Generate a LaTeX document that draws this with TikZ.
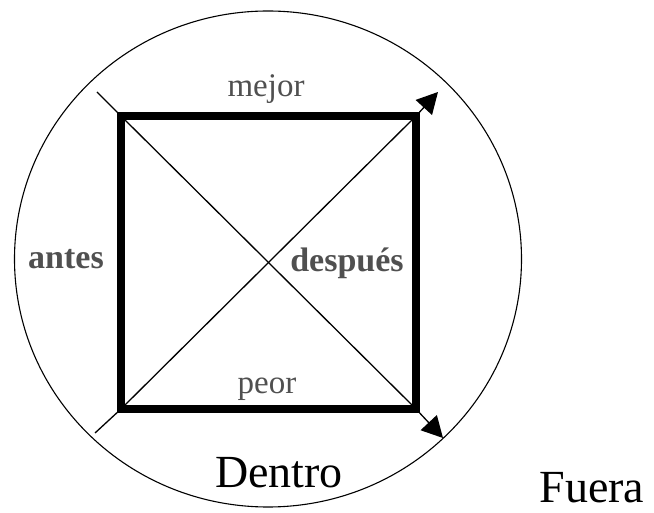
\documentclass[tikz,border=0pt]{standalone}
\usepackage{fontspec}
\setmainfont{Liberation Serif}
\usetikzlibrary{arrows.meta}
\definecolor{txt}{HTML}{000000}
\definecolor{gyT}{HTML}{505050}

\begin{document}
\begin{tikzpicture}[x=1pt,y=-1pt,
  >={Triangle[length=21pt,width=22pt]},
  lbl/.style={font=\fontsize{33}{36}\selectfont,text=gyT,anchor=base,inner sep=0pt},
  blbl/.style={lbl,font=\fontsize{34}{36}\selectfont\bfseries},
  big/.style={font=\fontsize{46}{48}\selectfont,text=txt,anchor=base,inner sep=0pt},
  thin/.style={line width=1.3pt,draw=txt},
  ]
\useasboundingbox (0,0) rectangle (654,513);

% ================= outer ring =================
\draw[line width=1.1pt] (268,259) ellipse [x radius=253.5,y radius=248];

% ================= square corners =================
\coordinate (tl) at (121,116);
\coordinate (tr) at (416,116);
\coordinate (br) at (416,409);
\coordinate (bl) at (121,409);
\coordinate (ul) at (97,92);
\coordinate (ll) at (95,433);
\coordinate (ur) at (438,92);
\coordinate (lr) at (443,438);

% ---- diagonals ----
\draw[thin,->] (ul) -- (tl) -- (br) -- (lr);
\draw[thin,->] (ll) -- (bl) -- (tr) -- (ur);

% ---- thick frame ----
\draw[line width=8.5pt,miter limit=10] (tl) -- (tr) -- (br) -- (bl) -- cycle;

% ================= labels =================
\node[lbl] (mejor) at (266,97) {mejor};
\node[lbl] (peor) at (267,393) {peor};
\node[blbl] (antes) at (66,269) {antes};
\node[blbl] (despues) at (347,272) {después};
\node[big] (dentro) at (279,487) {Dentro};
\node[big] (fuera) at (592,502) {Fuera};

\end{tikzpicture}
\end{document}
